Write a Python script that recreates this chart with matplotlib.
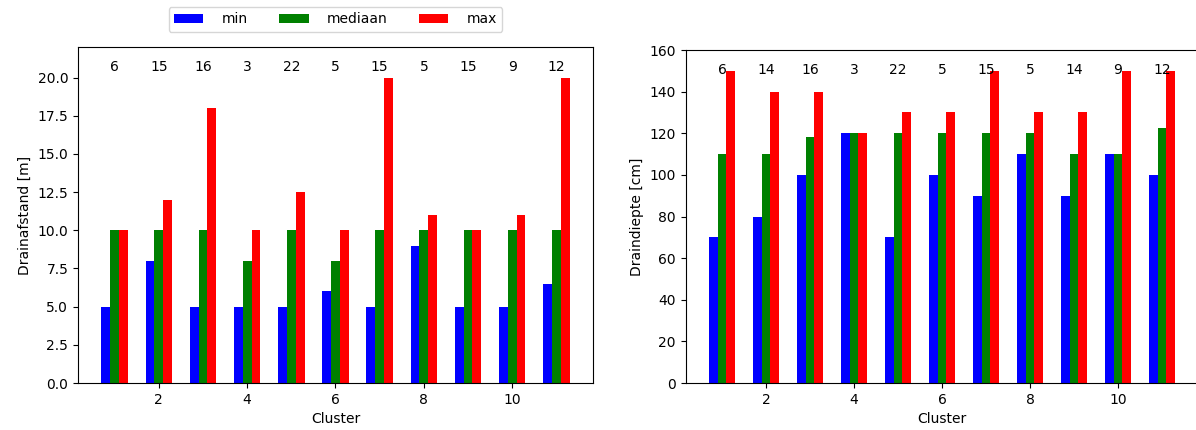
import numpy as np
import matplotlib.pyplot as plt

clusters = np.arange(1, 12)

# Drainafstand per cluster [m]
afstand_min = [5, 8, 5, 5, 5, 6, 5, 9, 5, 5, 6.5]
afstand_med = [10, 10, 10, 8, 10, 8, 10, 10, 10, 10, 10]
afstand_max = [10, 12, 18, 10, 12.5, 10, 20, 11, 10, 11, 20]
afstand_n = [6, 15, 16, 3, 22, 5, 15, 5, 15, 9, 12]

# Draindiepte per cluster [cm]
diepte_min = [70, 80, 100, 120, 70, 100, 90, 110, 90, 110, 100]
diepte_med = [110, 110, 118, 120, 120, 120, 120, 120, 110, 110, 122.5]
diepte_max = [150, 140, 140, 120, 130, 130, 150, 130, 130, 150, 150]
diepte_n = [6, 14, 16, 3, 22, 5, 15, 5, 14, 9, 12]

width = 0.2

fig = plt.figure(figsize=(11.96, 4.3), dpi=100)
ax1 = fig.add_axes([0.0652, 0.1093, 0.4306, 0.7814])
ax2 = fig.add_axes([0.5732, 0.1093, 0.4289, 0.7744])


def barplot(ax, mins, meds, maxs, counts, ylabel, ymax, ytext):
    ax.bar(clusters - width, mins, width, color='b', label='min')
    ax.bar(clusters, meds, width, color='g', label='mediaan')
    ax.bar(clusters + width, maxs, width, color='r', label='max')

    # aantal percelen per cluster boven de staven
    for x, n in zip(clusters, counts):
        ax.text(x, ytext, str(n), ha='center', va='baseline', fontsize=10)

    ax.set_ylim(0, ymax)
    ax.set_xlabel('Cluster')
    ax.set_ylabel(ylabel)


barplot(ax1, afstand_min, afstand_med, afstand_max, afstand_n, 'Drainafstand [m]', 22, 20.45)
barplot(ax2, diepte_min, diepte_med, diepte_max, diepte_n, 'Draindiepte [cm]', 160, 148.5)

ax1.legend(loc='upper center', bbox_to_anchor=(0.5, 1.14), ncol=3,
           handlelength=2.1, handletextpad=1.3, columnspacing=2.3)

fig.savefig('out.png', dpi=100)
